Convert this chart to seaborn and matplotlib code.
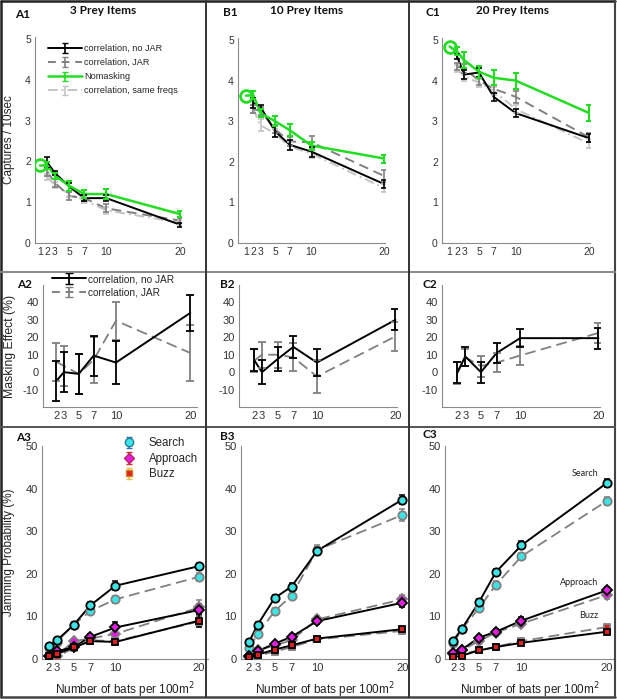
import numpy as np
import pandas as pd
import matplotlib
matplotlib.use("Agg")
import matplotlib.pyplot as plt
from matplotlib.lines import Line2D
import seaborn as sns

sns.set_style("white")
plt.rcParams['font.family'] = ['Liberation Sans', 'DejaVu Sans']

# ---------------- data ----------------
x_green = [1, 2, 3, 5, 7, 10, 20]
x_bats = [2, 3, 5, 7, 10, 20]
ticks_row1 = [1, 2, 3, 5, 7, 10, 20]
ticks_rows23 = [2, 3, 5, 7, 10, 20]

# Row 1: captures / 10 sec
A1_green = [1.9, 1.9, 1.65, 1.4, 1.2, 1.2, 0.71]
A1_green_err = [0, 0.08, 0.07, 0.13, 0.1, 0.12, 0.07]
A1_nojar = [1.97, 1.72, 1.38, 1.1, 1.1, 0.45]
A1_nojar_err = [0.14, 0.05, 0.1, 0.08, 0.08, 0.05]
A1_jar = [1.75, 1.48, 1.15, 1.1, 0.85, 0.55]
A1_jar_err = [0.1, 0.1, 0.1, 0.08, 0.1, 0.06]
A1_same = [1.62, 1.42, 1.2, 1.05, 0.8, 0.5]
A1_same_err = [0.08, 0.08, 0.08, 0.08, 0.08, 0.06]

B1_green = [3.63, 3.64, 3.2, 3.0, 2.78, 2.4, 2.08]
B1_green_err = [0, 0.1, 0.1, 0.13, 0.15, 0.1, 0.1]
B1_nojar = [3.45, 3.35, 2.75, 2.42, 2.25, 1.45]
B1_nojar_err = [0.12, 0.06, 0.13, 0.12, 0.12, 0.1]
B1_jar = [3.3, 3.25, 2.8, 2.5, 2.48, 1.65]
B1_jar_err = [0.1, 0.1, 0.1, 0.1, 0.15, 0.15]
B1_same = [3.3, 2.9, 2.7, 2.38, 2.2, 1.35]
B1_same_err = [0.1, 0.15, 0.1, 0.1, 0.1, 0.1]

C1_green = [4.84, 4.72, 4.5, 4.22, 4.07, 4.0, 3.2]
C1_green_err = [0, 0.1, 0.2, 0.15, 0.18, 0.2, 0.2]
C1_nojar = [4.6, 4.15, 4.2, 3.6, 3.2, 2.58]
C1_nojar_err = [0.06, 0.1, 0.12, 0.1, 0.1, 0.1]
C1_jar = [4.35, 4.3, 4.0, 3.8, 3.6, 2.6]
C1_jar_err = [0.08, 0.1, 0.1, 0.1, 0.15, 0.12]
C1_same = [4.3, 4.1, 3.95, 3.75, 3.3, 2.45]
C1_same_err = [0.08, 0.1, 0.1, 0.1, 0.1, 0.1]

# Row 2: masking effect (%)
A2_nojar = [-5, 0, -1, 9.5, 5.5, 34]
A2_nojar_err = [11.5, 11.5, 11.5, 11.5, 12.5, 10.5]
A2_jar = [6, 3.5, -1, 7, 29.5, 11]
A2_jar_err = [11, 11.5, 11.5, 13, 11, 16]
B2_nojar = [7, 0, 7.5, 14.5, 5.5, 30]
B2_nojar_err = [6.5, 7, 7, 6.5, 7.5, 6]
B2_jar = [6.5, 10, 10, 8.5, -2.5, 20.5]
B2_jar_err = [6.5, 7.5, 7.5, 8, 9.5, 8.5]
C2_nojar = [0, 9, 0, 11, 19.5, 19.5]
C2_nojar_err = [6, 5.5, 6, 5.5, 5.3, 6]
C2_jar = [-0.5, 8.5, 3.5, 5.5, 9.5, 22.5]
C2_jar_err = [6.5, 5, 6, 5.5, 5.5, 5.5]

# Row 3: jamming probability (%)
A3_search_nj = [3.0, 4.4, 8.0, 12.6, 17.2, 21.8]
A3_search_nj_err = [0.5, 0.5, 0.6, 0.7, 1.0, 0.8]
A3_search_j = [2.6, 4.1, 8.0, 11.3, 14.0, 19.3]
A3_search_j_err = [0.5, 0.5, 0.6, 0.7, 0.9, 1.0]
A3_appr_nj = [0.8, 1.8, 2.8, 5.2, 7.4, 11.5]
A3_appr_nj_err = [0.4, 0.5, 0.6, 0.7, 1.3, 1.5]
A3_appr_j = [0.8, 0.8, 4.2, 4.8, 5.9, 12.1]
A3_appr_j_err = [0.4, 0.4, 0.6, 0.7, 0.9, 1.8]
A3_buzz_nj = [0.8, 1.2, 2.7, 4.2, 4.0, 9.0]
A3_buzz_nj_err = [0.4, 0.4, 0.5, 0.6, 0.7, 1.5]
A3_buzz_j = [0.6, 0.5, 2.6, 4.4, 4.2, 8.8]
A3_buzz_j_err = [0.3, 0.3, 0.5, 0.6, 0.7, 1.3]

B3_search_nj = [4.0, 8.0, 14.3, 17.0, 25.4, 37.4]
B3_search_nj_err = [0.5, 0.6, 0.8, 0.8, 0.8, 1.0]
B3_search_j = [2.6, 5.8, 11.2, 14.9, 25.6, 33.8]
B3_search_j_err = [0.5, 0.6, 0.8, 0.9, 1.2, 1.5]
B3_appr_nj = [0.6, 1.8, 3.6, 5.2, 8.9, 13.2]
B3_appr_nj_err = [0.3, 0.4, 0.5, 0.6, 0.8, 0.9]
B3_appr_j = [0.5, 2.0, 3.2, 4.4, 9.3, 14.0]
B3_appr_j_err = [0.3, 0.4, 0.5, 0.6, 0.8, 1.0]
B3_buzz_nj = [0.5, 1.0, 2.2, 3.2, 4.8, 7.0]
B3_buzz_nj_err = [0.2, 0.3, 0.3, 0.4, 0.4, 0.5]
B3_buzz_j = [0.4, 0.8, 1.7, 2.8, 4.6, 6.6]
B3_buzz_j_err = [0.2, 0.3, 0.3, 0.4, 0.4, 0.5]

C3_search_nj = [4.3, 7.1, 13.3, 20.4, 26.7, 41.3]
C3_search_nj_err = [0.5, 0.5, 0.7, 0.8, 0.9, 1.0]
C3_search_j = [3.7, 7.0, 11.9, 17.4, 24.1, 37.1]
C3_search_j_err = [0.5, 0.5, 0.7, 0.8, 0.9, 0.9]
C3_appr_nj = [1.3, 2.2, 5.0, 6.4, 9.0, 16.1]
C3_appr_nj_err = [0.4, 0.5, 0.6, 0.7, 0.8, 0.9]
C3_appr_j = [1.2, 2.0, 4.2, 6.2, 8.3, 15.0]
C3_appr_j_err = [0.4, 0.5, 0.6, 0.7, 0.8, 0.9]
C3_buzz_nj = [0.4, 0.8, 2.0, 2.8, 3.8, 6.4]
C3_buzz_nj_err = [0.2, 0.3, 0.3, 0.3, 0.4, 0.5]
C3_buzz_j = [0.5, 1.2, 2.0, 2.9, 4.2, 7.5]
C3_buzz_j_err = [0.2, 0.3, 0.3, 0.3, 0.4, 0.5]

row1_titles = ["3 Prey Items", "10 Prey Items", "20 Prey Items"]
legend1_labels = ["correlation, no JAR", "correlation, JAR", "Nomasking", "correlation, same freqs"]
legend3_labels = ["Search", "Approach", "Buzz"]

# ---------------- styles ----------------
W, H = 617, 699
BLACK = "#000000"
GRAY = "#808080"
LGRAY = "#c4c4c4"
GREEN = "#22dd22"
CYAN = "#3fe3e3"
MAGENTA = "#e020e0"
RED = "#dd2020"
SPINE = "#8a8a8a"
TICKC = "#333333"
BOLD_FONT = ['Lato', 'DejaVu Sans']

fig = plt.figure(figsize=(W / 100, H / 100), dpi=100)


def ax_px(l, r, t, b):
    return fig.add_axes([l / W, 1 - b / H, (r - l) / W, (b - t) / H])


def style_axes(ax, xticks, xlim, ylim, yticks, fs):
    sns.despine(ax=ax)
    for s in ("left", "bottom"):
        ax.spines[s].set_color(SPINE)
        ax.spines[s].set_linewidth(0.8)
    ax.set_xlim(*xlim)
    ax.set_ylim(*ylim)
    ax.set_xticks(xticks)
    ax.set_xticklabels([str(t) for t in xticks])
    ax.set_yticks(yticks)
    ax.set_yticklabels([str(t) for t in yticks])
    ax.tick_params(direction="in", length=3, width=0.7, color=SPINE,
                   labelsize=fs, labelcolor=TICKC, pad=3)
    ax.set_xlabel("")
    ax.set_ylabel("")
    ax.grid(False)


def line(ax, x, y, color, ls="-", lw=1.4, **kw):
    df = pd.DataFrame({"x": x, "y": y})
    sns.lineplot(data=df, x="x", y="y", ax=ax, color=color, linestyle=ls,
                 linewidth=lw, errorbar=None, sort=False, legend=False, **kw)


def ebar(ax, x, y, err, color, lw=1.2, capsize=2.5, zorder=3):
    ax.errorbar(x, y, yerr=err, fmt="none", ecolor=color, elinewidth=lw,
                capsize=capsize, capthick=lw, zorder=zorder)


# ---------------- Row 1 ----------------
row1_pos = [(35, 181, 37, 243), (238, 385, 38, 243), (442, 590, 38, 243)]
row1_xlim = [(0.32, 20.15), (-0.1, 20.1), (-0.03, 20.1)]
row1_data = [
    (A1_green, A1_green_err, A1_nojar, A1_nojar_err, A1_jar, A1_jar_err, A1_same, A1_same_err),
    (B1_green, B1_green_err, B1_nojar, B1_nojar_err, B1_jar, B1_jar_err, B1_same, B1_same_err),
    (C1_green, C1_green_err, C1_nojar, C1_nojar_err, C1_jar, C1_jar_err, C1_same, C1_same_err),
]
for i, (pos, xl, d) in enumerate(zip(row1_pos, row1_xlim, row1_data)):
    ax = ax_px(*pos)
    g, ge, nj, nje, jr, jre, sm, sme = d
    line(ax, x_bats, sm, LGRAY, ls=(0, (5, 2, 1, 2)), lw=1.4)
    ebar(ax, x_bats, sm, sme, LGRAY)
    line(ax, x_bats, jr, GRAY, ls=(0, (5, 3)), lw=1.4)
    ebar(ax, x_bats, jr, jre, GRAY)
    line(ax, x_bats, nj, BLACK, lw=1.4)
    ebar(ax, x_bats, nj, nje, BLACK)
    line(ax, x_green, g, GREEN, lw=1.8)
    ebar(ax, x_green[1:], g[1:], ge[1:], GREEN, lw=1.5)
    ax.plot([x_green[0]], [g[0]], marker="o", markersize=8.5, markerfacecolor="none",
            markeredgecolor=GREEN, markeredgewidth=2, linestyle="none", zorder=5)
    style_axes(ax, ticks_row1, xl, (0, 5.05), [0, 1, 2, 3, 4, 5], 7.5)
    if i == 0:
        ax.set_ylabel("Captures / 10sec", fontsize=8.5, color="#222222")
        ax.yaxis.set_label_coords(-0.137, 0.5)
        hs = []
        for lab, c, ls, lw in zip(legend1_labels, [BLACK, GRAY, GREEN, LGRAY],
                                  ["-", (0, (4, 3)), "-", (0, (5, 2, 1, 2))],
                                  [1.4, 1.4, 1.8, 1.4]):
            h = ax.errorbar([np.nan], [np.nan], yerr=[1], color=c, linestyle=ls,
                            linewidth=lw, elinewidth=1.2, capsize=2.5, label=lab)
            hs.append(h)
        ax.legend(handles=hs, loc="upper left", bbox_to_anchor=(0.09, 0.965),
                  frameon=False, fontsize=6.6, handlelength=3.7, handletextpad=0.2,
                  labelspacing=0.55, borderaxespad=0, borderpad=0)

# ---------------- Row 2 ----------------
row2_pos = [(43, 197, 285, 407), (239, 397, 285, 407), (442, 600, 285, 407)]
row2_xlim = [(0.19, 20.9), (0.08, 20.2), (0.03, 20.2)]
row2_data = [(A2_nojar, A2_nojar_err, A2_jar, A2_jar_err),
             (B2_nojar, B2_nojar_err, B2_jar, B2_jar_err),
             (C2_nojar, C2_nojar_err, C2_jar, C2_jar_err)]
for i, (pos, xl, d) in enumerate(zip(row2_pos, row2_xlim, row2_data)):
    ax = ax_px(*pos)
    nj, nje, jr, jre = d
    line(ax, x_bats, jr, GRAY, ls=(0, (6, 3)), lw=1.3)
    ebar(ax, x_bats, jr, jre, GRAY, lw=1.3, capsize=3)
    line(ax, x_bats, nj, BLACK, lw=1.4)
    ebar(ax, x_bats, nj, nje, BLACK, lw=1.3, capsize=3)
    style_axes(ax, ticks_rows23, xl, (-20, 50), [-10, 0, 10, 20, 30, 40], 8)
    if i == 0:
        ax.set_ylabel("Masking Effect (%)", fontsize=8.8, color="#222222")
        ax.yaxis.set_label_coords(-0.173, 0.5)
        hs = []
        for lab, c, ls in zip(legend1_labels[:2], [BLACK, GRAY], ["-", (0, (4, 3))]):
            h = ax.errorbar([np.nan], [np.nan], yerr=[1], color=c, linestyle=ls,
                            linewidth=1.4, elinewidth=1.3, capsize=3, label=lab)
            hs.append(h)
        ax.legend(handles=hs, loc="upper left", bbox_to_anchor=(0.06, 1.09),
                  frameon=False, fontsize=7.3, handlelength=3.3, handletextpad=0.25,
                  labelspacing=0.35, borderaxespad=0, borderpad=0)

# ---------------- Row 3 ----------------
row3_pos = [(42, 208, 446, 659), (241, 408, 446, 659), (445, 615, 446, 659)]
row3_xlim = [(1.21, 21.07), (1.06, 20.67), (1.03, 20.97)]
row3_data = [
    [(A3_search_nj, A3_search_nj_err, A3_search_j, A3_search_j_err),
     (A3_appr_nj, A3_appr_nj_err, A3_appr_j, A3_appr_j_err),
     (A3_buzz_nj, A3_buzz_nj_err, A3_buzz_j, A3_buzz_j_err)],
    [(B3_search_nj, B3_search_nj_err, B3_search_j, B3_search_j_err),
     (B3_appr_nj, B3_appr_nj_err, B3_appr_j, B3_appr_j_err),
     (B3_buzz_nj, B3_buzz_nj_err, B3_buzz_j, B3_buzz_j_err)],
    [(C3_search_nj, C3_search_nj_err, C3_search_j, C3_search_j_err),
     (C3_appr_nj, C3_appr_nj_err, C3_appr_j, C3_appr_j_err),
     (C3_buzz_nj, C3_buzz_nj_err, C3_buzz_j, C3_buzz_j_err)],
]
phase_style = [("o", CYAN, 6.0), ("D", MAGENTA, 4.8), ("s", RED, 4.8)]
for i, (pos, xl, d) in enumerate(zip(row3_pos, row3_xlim, row3_data)):
    ax = ax_px(*pos)
    for (nj, nje, jr, jre), (mk, fc, ms) in zip(d, phase_style):
        line(ax, x_bats, jr, GRAY, ls=(0, (6, 3)), lw=1.3)
        ebar(ax, x_bats, jr, jre, GRAY, lw=1.1, capsize=2.5)
        ax.plot(x_bats, jr, marker=mk, markersize=ms, markerfacecolor=fc,
                markeredgecolor=GRAY, markeredgewidth=1.3, linestyle="none", zorder=4)
        line(ax, x_bats, nj, BLACK, lw=1.4)
        ebar(ax, x_bats, nj, nje, BLACK, lw=1.1, capsize=2.5)
        ax.plot(x_bats, nj, marker=mk, markersize=ms, markerfacecolor=fc,
                markeredgecolor=BLACK, markeredgewidth=1.3, linestyle="none", zorder=5)
    style_axes(ax, ticks_rows23, xl, (0, 50), [0, 10, 20, 30, 40, 50], 8)
    ax.set_xlabel("Number of bats per 100m$^2$", fontsize=8.5, color="#222222")
    ax.xaxis.set_label_coords(0.5, -0.10)
    if i == 0:
        ax.set_ylabel("Jamming Probability (%)", fontsize=8.5, color="#222222")
        ax.yaxis.set_label_coords(-0.16, 0.5)
        hs = []
        for lab, (mk, fc, ms), ec, ee in zip(legend3_labels, phase_style,
                                             ["#2080a0", "#c02060", "#d08020"],
                                             ["#3070c0", "#d03030", "#e8c040"]):
            h = ax.errorbar([np.nan], [np.nan], yerr=[1], fmt=mk, markersize=ms,
                            markerfacecolor=fc, markeredgecolor=ec, ecolor=ee,
                            elinewidth=1.1, capsize=2.5, label=lab)
            hs.append(h)
        ax.legend(handles=hs, loc="upper left", bbox_to_anchor=(0.47, 1.04),
                  frameon=False, fontsize=8.3, handlelength=1.5, handletextpad=1.0,
                  labelspacing=0.3, borderaxespad=0, borderpad=0)
    if i == 2:
        for lab, tx, ty in zip(legend3_labels, [17.5, 16.7, 17.9], [43.6, 17.9, 10.1]):
            ax.text(tx, ty, lab, fontsize=6.5, ha="center", va="center",
                    family=BOLD_FONT, color="#222222")

# ---------------- panel labels & frame ----------------
def ftext(px, py, s, size, weight="bold"):
    fig.text(px / W, 1 - py / H, s, fontsize=size, fontweight=weight,
             ha="center", va="center", family=BOLD_FONT, color="#111111")

for (px, py, s) in [(23, 14, "A1"), (230, 13, "B1"), (433, 13, "C1"),
                    (24, 285, "A2"), (227, 284, "B2"), (430, 284, "C2"),
                    (23, 437, "A3"), (227, 436, "B3"), (430, 435, "C3")]:
    ftext(px, py, s, 8.5)
for (px, s) in zip([103, 307, 512], row1_titles):
    ftext(px, 11, s, 8.5)

def fline(x0, y0, x1, y1, color, lw):
    fig.add_artist(Line2D([x0 / W, x1 / W], [1 - y0 / H, 1 - y1 / H],
                          transform=fig.transFigure, color=color, linewidth=lw))

fline(1, 1, 615, 1, "#222222", 1.8)
fline(1, 1, 1, 697, "#222222", 1.8)
fline(615, 1, 615, 697, "#444444", 1.5)
fline(1, 697, 615, 697, "#444444", 1.8)
fline(1, 272, 615, 272, "#888888", 1.4)
fline(1, 427, 615, 427, "#555555", 1.4)
fline(206, 1, 206, 697, "#333333", 1.4)
fline(409, 1, 409, 697, "#333333", 1.4)

fig.savefig("out.png", dpi=100)
